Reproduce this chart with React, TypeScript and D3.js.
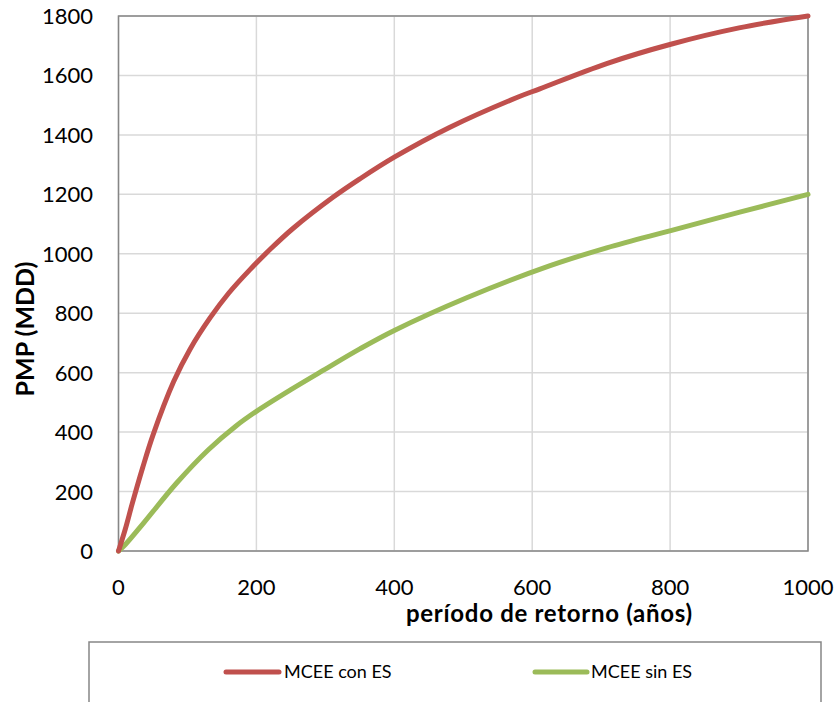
import React from "react";
import * as d3 from "d3";

const redX = [0, 10, 20, 35, 50, 80, 104, 133, 160, 190, 220, 253, 311, 350, 400, 480, 577, 611, 708, 801, 900, 1000];
const redY = [0, 75, 160, 280, 390, 570, 680, 785, 868, 945, 1015, 1085, 1190, 1252, 1325, 1425, 1525, 1555, 1640, 1705, 1760, 1800];
const greenX = [0, 10, 36, 84, 130, 170, 200, 250, 300, 350, 400, 505, 626, 708, 801, 901, 1000];
const greenY = [0, 22, 93, 228, 340, 420, 470, 543, 612, 680, 742, 852, 960, 1020, 1078, 1140, 1200];
const xTicks = [0, 200, 400, 600, 800, 1000];
const yTicks = [0, 200, 400, 600, 800, 1000, 1200, 1400, 1600, 1800];
const seriesNames = ["MCEE con ES", "MCEE sin ES"];
const xTitle = "período de retorno (años)";
const yTitle = "PMP (MDD)";

const W = 839, H = 702;
const L = 118.5, R = 808, T = 16, B = 551;
const RED = "#C0504D", GREEN = "#9BBB59";
const FONT = "Lato, 'Open Sans', sans-serif";

export default function App() {
  const x = d3.scaleLinear().domain([0, 1000]).range([L, R]);
  const y = d3.scaleLinear().domain([0, 1800]).range([B, T]);
  const line = d3
    .line<[number, number]>()
    .x((d) => x(d[0]))
    .y((d) => y(d[1]))
    .curve(d3.curveCatmullRom.alpha(0.5));
  const redData = redX.map((v, i) => [v, redY[i]] as [number, number]);
  const greenData = greenX.map((v, i) => [v, greenY[i]] as [number, number]);

  return (
    <svg width={W} height={H} style={{ position: "absolute", left: 0, top: 0, background: "#fff" }} fontFamily={FONT}>
      <rect x={0} y={0} width={W} height={H} fill="#fff" />
      {yTicks.map((t) => (
        <line key={"gy" + t} x1={L} x2={R} y1={y(t)} y2={y(t)} stroke="#D9D9D9" strokeWidth={1.5} />
      ))}
      {xTicks.map((t) => (
        <line key={"gx" + t} x1={x(t)} x2={x(t)} y1={T} y2={B} stroke="#D9D9D9" strokeWidth={1.5} />
      ))}
      <rect x={L} y={T} width={R - L} height={B - T} fill="none" stroke="#868686" strokeWidth={1.5} />
      {yTicks.map((t) => (
        <text key={"ty" + t} x={93} y={y(t) + 8} textAnchor="end" fontSize={22} fill="#000">
          {t}
        </text>
      ))}
      {xTicks.map((t) => (
        <text key={"tx" + t} x={x(t)} y={595} textAnchor="middle" fontSize={22} fill="#000">
          {t}
        </text>
      ))}
      <text x={549} y={622} textAnchor="middle" fontSize={24} fontWeight="bold" textLength={286} lengthAdjust="spacing" fill="#000">
        {xTitle}
      </text>
      <text
        transform={`translate(34, 329) rotate(-90)`}
        textAnchor="middle"
        fontSize={25}
        fontWeight="bold"
        fill="#000"
      >
        {yTitle}
      </text>
      <path d={line(greenData) || ""} fill="none" stroke={GREEN} strokeWidth={5} strokeLinecap="round" strokeLinejoin="round" />
      <path d={line(redData) || ""} fill="none" stroke={RED} strokeWidth={5} strokeLinecap="round" strokeLinejoin="round" />
      <rect x={89} y={642} width={732} height={80} fill="none" stroke="#868686" strokeWidth={1.5} />
      <line x1={226} x2={279} y1={672} y2={672} stroke={RED} strokeWidth={5} strokeLinecap="round" />
      <text x={284} y={678} fontSize={18} fill="#000">{seriesNames[0]}</text>
      <line x1={535} x2={587} y1={672} y2={672} stroke={GREEN} strokeWidth={5} strokeLinecap="round" />
      <text x={591} y={678} fontSize={18} fill="#000">{seriesNames[1]}</text>
    </svg>
  );
}
